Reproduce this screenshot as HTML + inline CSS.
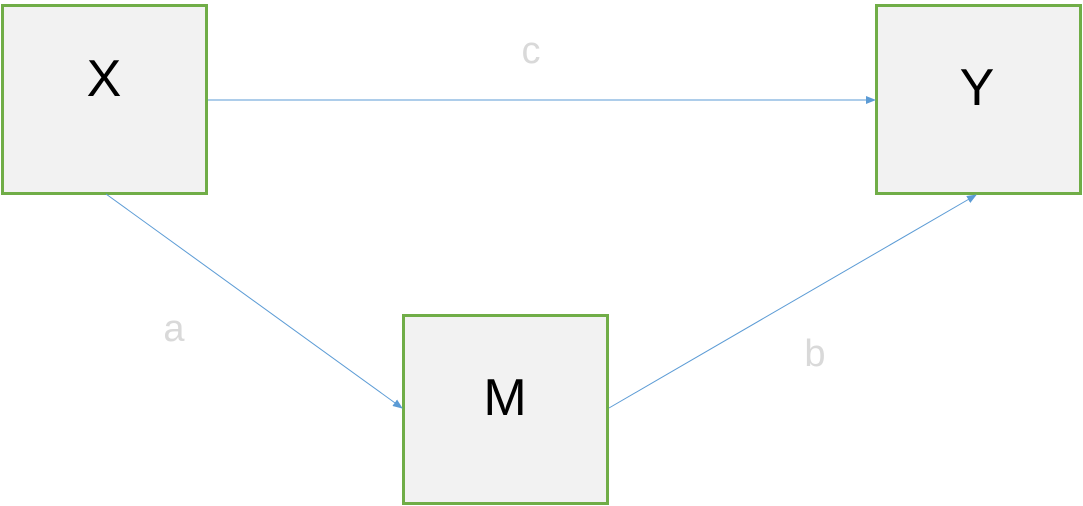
<!DOCTYPE html>
<html><head><style>
html,body{margin:0;padding:0;background:#fff;width:1083px;height:506px;overflow:hidden}
</style></head><body>
<svg width="1083" height="506" xmlns="http://www.w3.org/2000/svg" style="display:block">
<defs><marker id="ar" markerWidth="10" markerHeight="8" refX="9" refY="4" orient="auto" markerUnits="userSpaceOnUse"><path d="M0,0 L10,4 L0,8 z" fill="#5B9BD5"/></marker></defs>
<g fill="#F2F2F2" stroke="#70AD47" stroke-width="3">
<rect x="2.5" y="5.5" width="204" height="188"/>
<rect x="876.5" y="5.5" width="204" height="188"/>
<rect x="403.5" y="315.5" width="204" height="188"/>
</g>
<g stroke="#5B9BD5" stroke-width="1" fill="none" marker-end="url(#ar)">
<line x1="208" y1="100" x2="875" y2="100"/>
<line x1="106" y1="194" x2="402" y2="408"/>
<line x1="609" y1="408" x2="976" y2="195"/>
</g>
<g font-family="Liberation Sans, sans-serif" text-anchor="middle">
<text x="104" y="96" font-size="52" fill="#000">X</text>
<text x="977" y="105" font-size="52" fill="#000">Y</text>
<text x="505" y="415" font-size="52" fill="#000">M</text>
<text x="531" y="63" font-size="38" fill="#D9D9D9">c</text>
<text x="174" y="341" font-size="38" fill="#D9D9D9">a</text>
<text x="815" y="366" font-size="38" fill="#D9D9D9">b</text>
</g>
</svg>
</body></html>
